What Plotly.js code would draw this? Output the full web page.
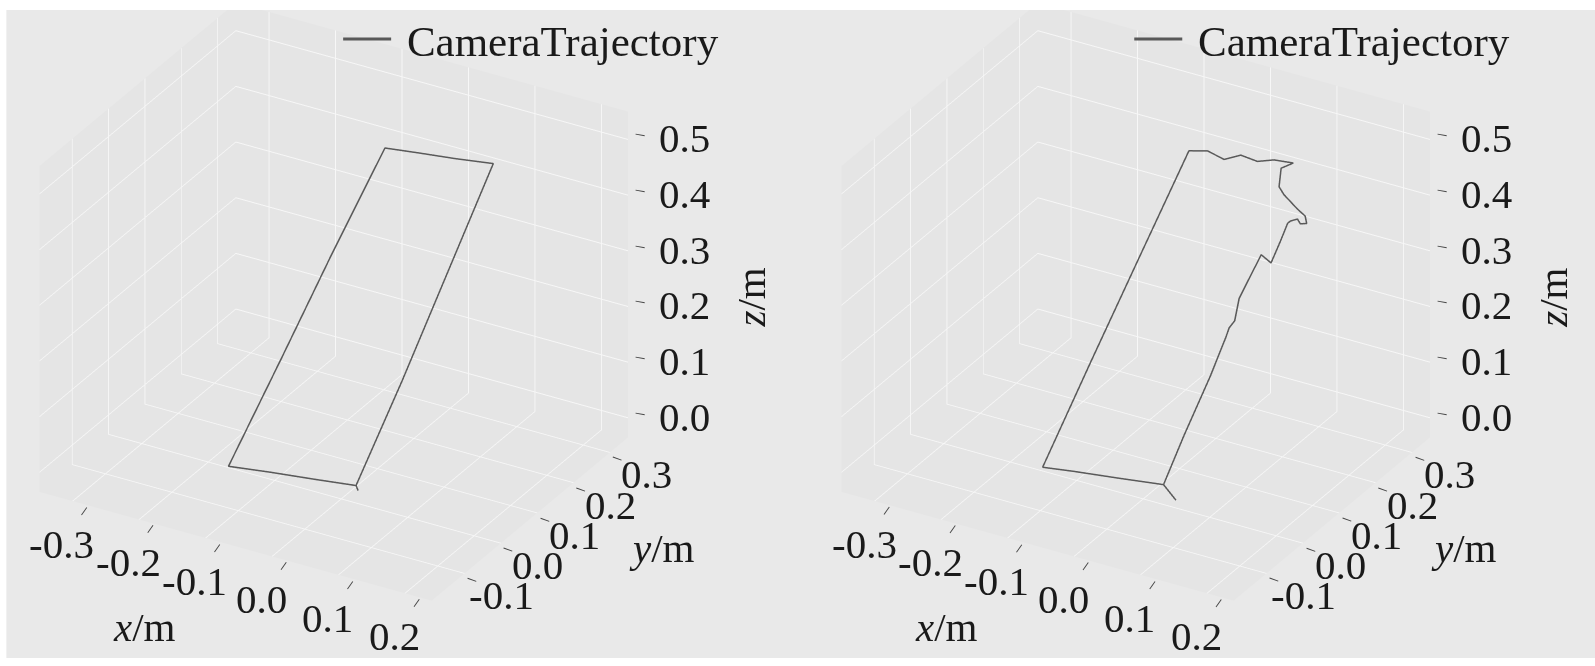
<!DOCTYPE html>
<html>
<head>
<meta charset="utf-8">
<script src="https://cdn.plot.ly/plotly-3.0.1.min.js"></script>
<style>
  html, body { margin: 0; padding: 0; background: #e9e9e9; }
  #chart { width: 1595px; height: 666px; }
</style>
</head>
<body>
<div id="chart"></div>
<script>
// left panel: camera trajectory, clean loop (metres)
var leftX = [0.025, -0.030, -0.090, -0.145, -0.120, -0.096, -0.071, -0.020, 0.035, 0.092, 0.070, 0.048, 0.025, 0.032];
var leftY = [-0.005, -0.018, -0.031, -0.045, 0.055, 0.150, 0.250, 0.250, 0.250, 0.250, 0.165, 0.080, -0.005, -0.012];
var leftZ = [0.000, 0.000, 0.000, 0.000, 0.148, 0.292, 0.436, 0.444, 0.452, 0.462, 0.306, 0.150, 0.000, -0.003];

// right panel: camera trajectory with drift near the top-right corner
var rightX = [0.065, 0.030, -0.030, -0.090, -0.130, -0.110, -0.089, -0.068, -0.040, -0.015, 0.010, 0.035, 0.060, 0.089, 0.074, 0.078, 0.088, 0.112, 0.126, 0.131, 0.122, 0.116, 0.107, 0.104, 0.101, 0.096, 0.079, 0.065, 0.067, 0.062, 0.061, 0.058, 0.054, 0.040, 0.030];
var rightY = [-0.029, 0.001, -0.014, -0.028, -0.039, 0.057, 0.153, 0.250, 0.250, 0.250, 0.250, 0.250, 0.250, 0.250, 0.244, 0.231, 0.226, 0.219, 0.215, 0.210, 0.209, 0.212, 0.209, 0.207, 0.194, 0.176, 0.180, 0.145, 0.129, 0.123, 0.116, 0.104, 0.086, 0.040, 0.001];
var rightZ = [0.000, 0.000, 0.000, 0.000, 0.000, 0.144, 0.288, 0.432, 0.441, 0.434, 0.450, 0.447, 0.458, 0.462, 0.451, 0.426, 0.418, 0.404, 0.398, 0.389, 0.386, 0.391, 0.386, 0.382, 0.358, 0.325, 0.332, 0.268, 0.237, 0.226, 0.213, 0.190, 0.157, 0.072, 0.000];

var xTicks = [-0.3, -0.2, -0.1, 0.0, 0.1, 0.2];
var yTicks = [-0.1, 0.0, 0.1, 0.2, 0.3];
var zTicks = [0.0, 0.1, 0.2, 0.3, 0.4, 0.5];

var xRange = [-0.35, 0.24];
var yRange = [-0.19, 0.35];
var zRange = [-0.035, 0.55];

var serif = "Liberation Serif, Times New Roman, serif";
var textColor = "#1a1a1a";
var lineColor = "#595959";

function axis(ticks, range) {
  return {
    title: {text: ""},
    range: range,
    tickvals: ticks,
    showticklabels: false,
    showbackground: true,
    backgroundcolor: "#e5e5e5",
    gridcolor: "#f7f7f7",
    gridwidth: 2,
    showline: false,
    zeroline: false,
    ticks: "",
    showspikes: false
  };
}

// tick labels, tick marks and axis titles as scene annotations (upright serif text)
function labels() {
  var ann = [];
  var f = {family: serif, size: 41, color: textColor};
  var mark = {family: serif, size: 18, color: "#444444"};
  function add(x, y, z, text, font, opts) {
    ann.push(Object.assign({x: x, y: y, z: z, text: text, showarrow: false, font: font,
      xanchor: "center", yanchor: "middle"}, opts));
  }
  xTicks.forEach(function (t) {
    add(t, yRange[0], zRange[0], t.toFixed(1), f, {xshift: -11, yshift: -43});
    add(t, yRange[0], zRange[0], "\u2013", mark, {xshift: 10, yshift: -9, textangle: -55});
  });
  yTicks.forEach(function (t) {
    add(xRange[1], t, zRange[0], t.toFixed(1), f, {xshift: 37, yshift: -22});
    add(xRange[1], t, zRange[0], "\u2013", mark, {xshift: 8, yshift: -5, textangle: 20});
  });
  zTicks.forEach(function (t) {
    add(xRange[1], yRange[1], t, t.toFixed(1), f, {xanchor: "left", xshift: 29, yshift: 1});
    add(xRange[1], yRange[1], t, "\u2013", mark, {xshift: 12, yshift: 6, textangle: 10});
  });
  add(-0.2, yRange[0], zRange[0], "<i>x</i>/m", f, {xshift: 5, yshift: -108});
  add(xRange[1], 0.1, zRange[0], "<i>y</i>/m", f, {xshift: 125, yshift: -35});
  add(xRange[1], yRange[1], 0.2, "<i>z</i>/m", f, {xshift: 123, yshift: 9, textangle: -90});
  return ann;
}

function scene(domainX) {
  return {
    domain: {x: domainX, y: [0, 1]},
    bgcolor: "#e9e9e9",
    aspectmode: "manual",
    aspectratio: {x: 1.36, y: 1.179, z: 1.115},
    camera: {
      eye: {x: 0.661, y: -1.08, z: 0.586},
      center: {x: 0.028, y: 0.016, z: -0.107},
      up: {x: 0, y: 0, z: 1},
      projection: {type: "orthographic"}
    },
    xaxis: axis(xTicks, xRange),
    yaxis: axis(yTicks, yRange),
    zaxis: axis(zTicks, zRange),
    annotations: labels()
  };
}

var traces = [
  {
    type: "scatter3d", mode: "lines", name: "\u00a0CameraTrajectory",
    x: leftX, y: leftY, z: leftZ,
    line: {color: lineColor, width: 3},
    scene: "scene", legend: "legend"
  },
  {
    type: "scatter3d", mode: "lines", name: "\u00a0CameraTrajectory",
    x: rightX, y: rightY, z: rightZ,
    line: {color: lineColor, width: 3},
    scene: "scene2", legend: "legend2"
  }
];

var legendStyle = {
  font: {family: serif, size: 43, color: textColor},
  bgcolor: "rgba(0,0,0,0)",
  itemwidth: 48,
  yanchor: "top", xanchor: "left", y: 0.993
};

var layout = {
  width: 1595,
  height: 666,
  margin: {l: 0, r: 0, t: 0, b: 0},
  paper_bgcolor: "#e9e9e9",
  showlegend: true,
  legend: Object.assign({x: 0.212}, legendStyle),
  legend2: Object.assign({x: 0.708}, legendStyle),
  scene: scene([0, 0.432]),
  scene2: scene([0.503, 0.935]),
  shapes: [
    {type: "rect", xref: "paper", yref: "paper", x0: 0, x1: 1, y0: 0.985, y1: 1,
      line: {width: 0}, fillcolor: "#ffffff", layer: "above"},
    {type: "rect", xref: "paper", yref: "paper", x0: 0, x1: 1, y0: 0, y1: 0.012,
      line: {width: 0}, fillcolor: "#ffffff", layer: "above"},
    {type: "rect", xref: "paper", yref: "paper", x0: 0, x1: 0.004, y0: 0, y1: 1,
      line: {width: 0}, fillcolor: "#ffffff", layer: "above"}
  ]
};

Plotly.newPlot("chart", traces, layout, {displayModeBar: false});
</script>
</body>
</html>
